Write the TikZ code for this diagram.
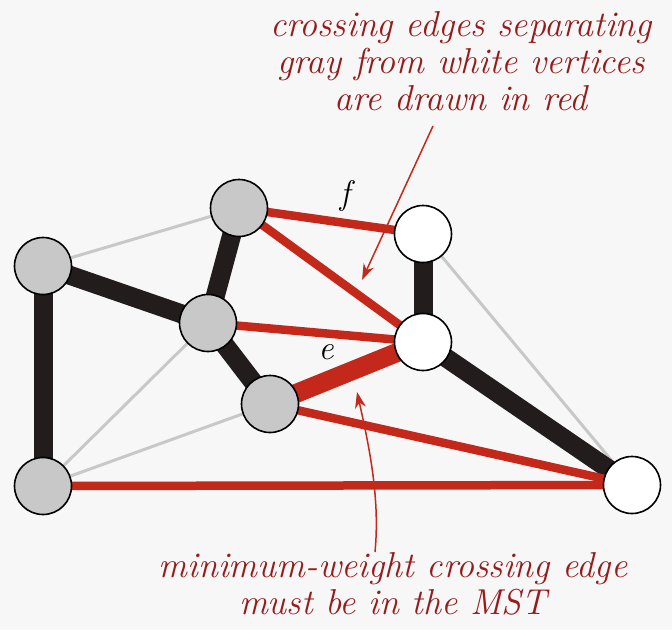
\documentclass[tikz,border=0pt]{standalone}
\usetikzlibrary{arrows.meta}
\definecolor{edgered}{RGB}{196,40,26}
\definecolor{txtred}{RGB}{150,28,28}
\definecolor{vgray}{RGB}{200,200,200}
\definecolor{lgray}{RGB}{200,200,200}
\definecolor{bgc}{RGB}{247,247,247}
\definecolor{blk}{RGB}{34,28,28}
\pgfdeclarelayer{bglayer}
\pgfdeclarelayer{edgelayer}
\pgfsetlayers{bglayer,edgelayer,main}
\tikzset{
  vtx/.style={circle,draw=black,line width=1.6pt,minimum size=57pt,inner sep=0pt},
  grayv/.style={vtx,fill=vgray},
  whitev/.style={vtx,fill=white},
  treeedge/.style={draw=blk,line width=19pt},
  thinedge/.style={draw=lgray,line width=3pt},
  rededge/.style={draw=edgered,line width=8.5pt},
  minedge/.style={draw=edgered,line width=19pt},
  callout/.style={draw=edgered,line width=1.5pt,-{Stealth[length=16pt,width=11pt,inset=5pt]}},
  note/.style={text=txtred,font=\fontsize{36}{37}\selectfont\itshape,align=center},
  elabel/.style={font=\fontsize{34}{37}\selectfont\itshape,text=black}
}
\begin{document}
\begin{tikzpicture}[x=1pt,y=-1pt]
\begin{pgfonlayer}{bglayer}
\fill[bgc] (0,0) rectangle (672,630);
\end{pgfonlayer}
\useasboundingbox (0,0) rectangle (672,630);
% vertices
\node[grayv]  (A) at (43,266) {};
\node[grayv]  (B) at (239,208) {};
\node[grayv]  (C) at (208,323) {};
\node[grayv]  (D) at (270,404) {};
\node[grayv]  (E) at (43,486) {};
\node[whitev] (F) at (423,234) {};
\node[whitev] (G) at (423,342) {};
\node[whitev] (H) at (632,485) {};
\begin{pgfonlayer}{edgelayer}
\draw[thinedge] (A.center) -- (B.center);
\draw[thinedge] (E.center) -- (C.center);
\draw[thinedge] (E.center) -- (D.center);
\draw[thinedge] (F.center) -- (H.center);
\draw[treeedge] (A.center) -- (E.center);
\draw[treeedge] (A.center) -- (C.center);
\draw[treeedge] (B.center) -- (C.center);
\draw[treeedge] (C.center) -- (D.center);
\draw[treeedge] (F.center) -- (G.center);
\draw[treeedge] (G.center) -- (H.center);
\draw[rededge] (B.center) -- (F.center);
\draw[rededge] (B.center) -- (G.center);
\draw[rededge] (C.center) -- (G.center);
\draw[rededge] (D.center) -- (H.center);
\draw[rededge] (E.center) -- (H.center);
\draw[minedge] (D.center) -- (G.center);
\end{pgfonlayer}
% edge labels
\node[elabel] (lf) at (345,196) {f};
\node[elabel] (le) at (326,352) {e};
% notes
\node[note,anchor=north] (top) at (461,8) {crossing edges separating\\gray from white vertices\\are drawn in red};
\node[note,anchor=north] (bot) at (393,549) {minimum-weight crossing edge\\must be in the MST};
\coordinate (tipf) at (362,280);
\coordinate (tipe) at (357,392);
\draw[callout] (433,126) -- (tipf);
\draw[callout] (375,552) .. controls (380,500) and (370,450) .. (tipe);
\end{tikzpicture}
\end{document}
